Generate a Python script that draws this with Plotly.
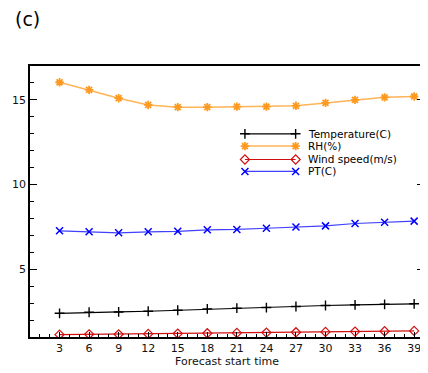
import plotly.graph_objects as go

hours = [3, 6, 9, 12, 15, 18, 21, 24, 27, 30, 33, 36, 39]
temperature = [2.40, 2.46, 2.48, 2.52, 2.58, 2.66, 2.70, 2.74, 2.80, 2.86, 2.90, 2.93, 2.96]
rh = [16.04, 15.59, 15.10, 14.70, 14.57, 14.57, 14.60, 14.60, 14.65, 14.82, 15.00, 15.15, 15.20]
wind = [1.14, 1.16, 1.16, 1.18, 1.20, 1.22, 1.24, 1.26, 1.28, 1.30, 1.32, 1.34, 1.36]
pt = [7.27, 7.21, 7.15, 7.21, 7.24, 7.33, 7.35, 7.42, 7.50, 7.56, 7.70, 7.78, 7.84]
y_ticks = [5, 10, 15]

FONT = "DejaVu Sans"

series = [
    dict(name="Temperature(C)", y=temperature, line=dict(color="#000000", width=1.2),
         marker=dict(symbol="cross-thin", size=7, line=dict(color="#000000", width=1.4))),
    dict(name="RH(%)", y=rh, line=dict(color="#FFB455", width=1.5),
         marker=dict(symbol="asterisk", size=7, color="#FF9A20", line=dict(color="#FF9A20", width=1.8))),
    dict(name="Wind speed(m/s)", y=wind, line=dict(color="#D01010", width=1.2),
         marker=dict(symbol="diamond-open", size=7, color="#D01010", line=dict(color="#D01010", width=1.2))),
    dict(name="PT(C)", y=pt, line=dict(color="#4040FF", width=1.2),
         marker=dict(symbol="x-thin", size=7, color="#0000FF", line=dict(color="#0000FF", width=1.5))),
]

# legend layout (paper fractions of the plot area)
legend_x = [0.5455, 0.6742]
legend_text_x = 0.6995
legend_rows = [0.7499, 0.7045, 0.6550, 0.6110]

fig = go.Figure()
for s in series:
    fig.add_trace(go.Scatter(x=hours, y=s["y"], name=s["name"], mode="lines+markers",
                             line=s["line"], marker=s["marker"], showlegend=False))

annotations = []
for s, ry in zip(series, legend_rows):
    fig.add_trace(go.Scatter(x=legend_x, y=[ry, ry], xaxis="x2", yaxis="y2", mode="lines+markers",
                             line=s["line"], marker=s["marker"], showlegend=False, hoverinfo="skip"))
    annotations.append(dict(text=s["name"], xref="paper", yref="paper", x=legend_text_x, y=ry,
                            xanchor="left", yanchor="middle", showarrow=False,
                            font=dict(family=FONT, size=10.5, color="#000")))

annotations.append(dict(text="(c)", xref="paper", yref="paper", x=-0.043, y=1.1736,
                        xanchor="left", yanchor="middle", showarrow=False,
                        font=dict(family=FONT, size=19, color="#000")))

fig.update_layout(
    width=420, height=365,
    margin=dict(l=22, r=2, t=58, b=36),
    paper_bgcolor="white", plot_bgcolor="white",
    font=dict(family=FONT, size=11, color="#111111"),
    showlegend=False,
    xaxis=dict(range=[0, 40], tickvals=hours, ticks="inside", ticklen=5, tickcolor="#000",
               showline=True, linecolor="#000", linewidth=1.5, mirror=True, showgrid=False,
               zeroline=False,
               minor=dict(dtick=1, tick0=0, ticks="inside", ticklen=3, tickcolor="#000"),
               title=dict(text="Forecast start time", standoff=2, font=dict(size=11))),
    yaxis=dict(range=[1, 17], tickvals=y_ticks, ticks="inside", ticklen=7, tickcolor="#000",
               showline=True, linecolor="#000", linewidth=1.5, mirror="ticks", showgrid=False,
               zeroline=False,
               minor=dict(dtick=1, tick0=0, ticks="inside", ticklen=4, tickcolor="#000")),
    xaxis2=dict(range=[0, 1], overlaying="x", visible=False, fixedrange=True),
    yaxis2=dict(range=[0, 1], overlaying="y", visible=False, fixedrange=True),
    annotations=annotations,
)

fig.write_html("out.html")
